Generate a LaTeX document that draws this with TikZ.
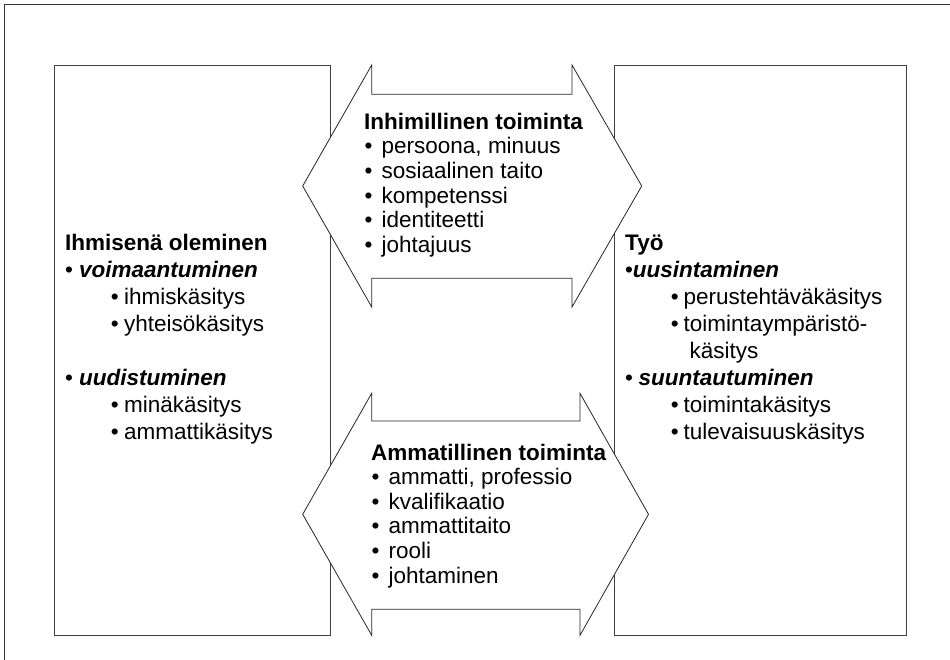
\documentclass[tikz,border=0pt]{standalone}
\usepackage{fontspec}
\setmainfont{Liberation Sans}
% one bulleted line: indent, gap between bullet and text, text
\newcommand\dgitem[3]{\hbox{\kern#1pt\rlap{•}\kern#2pt #3}}
% bold heading line
\newcommand\dghead[1]{\hbox{\bfseries #1}}
\newcommand\dgem[1]{{\bfseries\itshape #1}}
\begin{document}
\begin{tikzpicture}[x=1pt,y=-1pt,
  panel/.style={draw=black!75,line width=1pt,fill=white},
  dblarrow/.style={draw=black!85,line width=0.8pt,fill=white,line join=miter},
  txt/.style={anchor=base west,inner sep=0pt,font=\fontsize{22.5}{27}\selectfont}]
\useasboundingbox (0,0) rectangle (950,660);
% outer frame (only top and left edges fall inside the page)
\draw[black!80,line width=1.5pt] (950,4.5) -- (4.5,4.5) -- (4.5,660);
% side panels
\draw[panel] (54.5,66) rectangle (330,635);
\draw[panel] (614.5,66) rectangle (906.5,635);
% upper double-headed arrow
\draw[dblarrow] (302.7,186) -- (371.7,65) -- (371.7,94.3) -- (572,94.3) -- (572,65)
  -- (641.7,186) -- (572,307) -- (572,278.3) -- (371.7,278.3) -- (371.7,307) -- cycle;
% lower double-headed arrow
\draw[dblarrow] (302.7,514.3) -- (371.7,393.3) -- (371.7,421) -- (580,421) -- (580,393.3)
  -- (648.5,514.3) -- (580,635.3) -- (580,609.3) -- (371.7,609.3) -- (371.7,635.3) -- cycle;
% left panel text
\node[txt] (human) at (65,250.5) {\vtop{\baselineskip=27pt
  \dghead{Ihmisenä oleminen}
  \dgitem{0}{14}{\dgem{voimaantuminen}}
  \dgitem{45.7}{13.3}{ihmiskäsitys}
  \dgitem{45.7}{13.3}{yhteisökäsitys}
  \hbox{}
  \dgitem{0}{14}{\dgem{uudistuminen}}
  \dgitem{45.7}{13.3}{minäkäsitys}
  \dgitem{45.7}{13.3}{ammattikäsitys}}};
% right panel text
\node[txt] (work) at (625,250.5) {\vtop{\baselineskip=27pt
  \dghead{Työ}
  \dgitem{0}{7.7}{\dgem{uusintaminen}}
  \dgitem{45.7}{12.7}{perustehtäväkäsitys}
  \dgitem{45.7}{12.7}{toimintaympäristö-}
  \hbox{\kern64.3pt käsitys}
  \dgitem{0}{13.3}{\dgem{suuntautuminen}}
  \dgitem{45.7}{12.7}{toimintakäsitys}
  \dgitem{45.7}{12.7}{tulevaisuuskäsitys}}};
% upper arrow text
\node[txt] (human act) at (364,129.3) {\vtop{\baselineskip=24.6pt
  \dghead{Inhimillinen toiminta}
  \dgitem{0.5}{17}{persoona, minuus}
  \dgitem{0.5}{17}{sosiaalinen taito}
  \dgitem{0.5}{17}{kompetenssi}
  \dgitem{0.5}{17}{identiteetti}
  \dgitem{0.5}{17}{johtajuus}}};
% lower arrow text
\node[txt] (prof act) at (371,460) {\vtop{\baselineskip=24.6pt
  \dghead{Ammatillinen toiminta}
  \dgitem{0.5}{17}{ammatti, professio}
  \dgitem{0.5}{17}{kvalifikaatio}
  \dgitem{0.5}{17}{ammattitaito}
  \dgitem{0.5}{17}{rooli}
  \dgitem{0.5}{17}{johtaminen}}};
\end{tikzpicture}
\end{document}
